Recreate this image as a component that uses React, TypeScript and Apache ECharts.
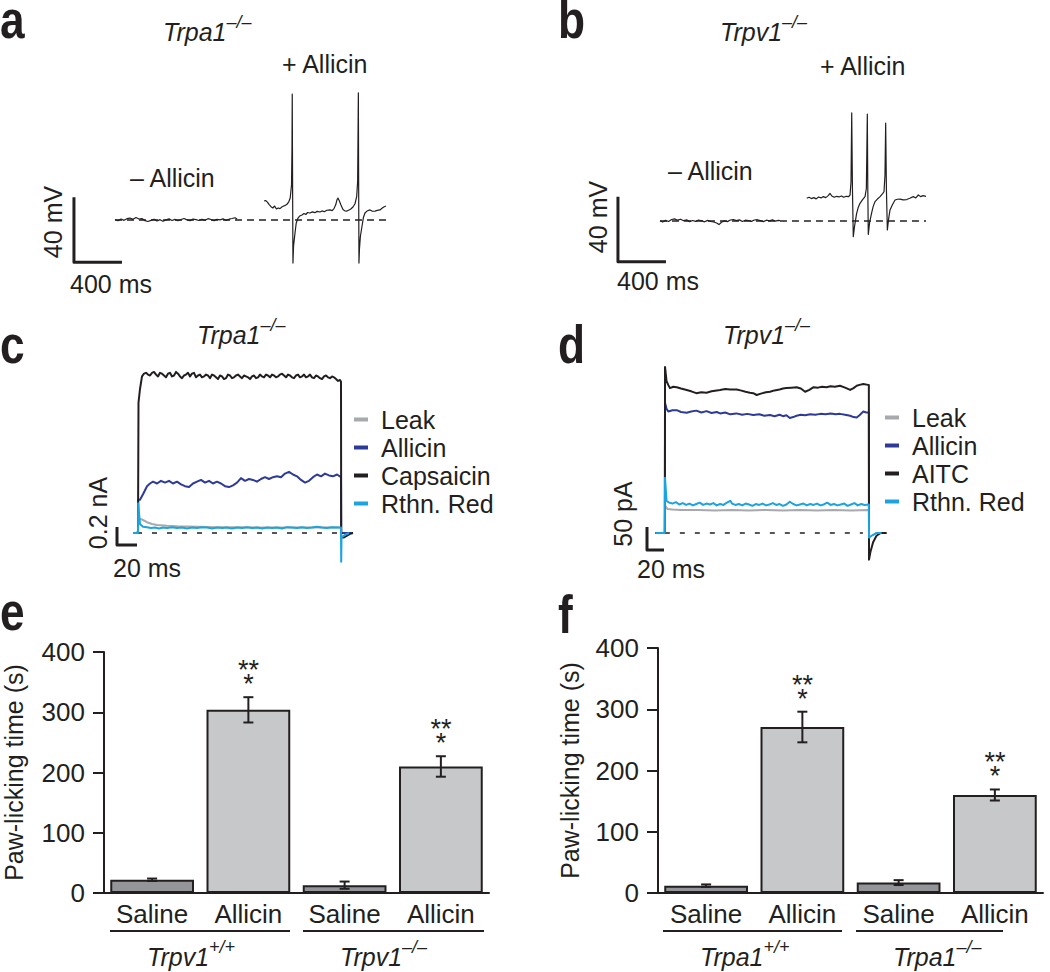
import React, { useEffect, useRef } from "react";
import * as echarts from "echarts";

const FONT = "'Liberation Sans', Arial, Helvetica, sans-serif";
const INK = "#231f20";
const C_LEAK = "#a7a9ac";
const C_ALLICIN = "#2e3a97";
const C_BLACK = "#231f20";
const C_RR = "#1ba4e0";
const C_SALINE_BAR = "#939598";
const C_ALLICIN_BAR = "#c7c8ca";

// ---------- panel a (Trpa1-/-), time ms, potential mV relative to rest ----------
const aMinusAllicin: number[][] = [[375,0.3],[400,-0.5],[425,0.6],[450,-0.2],[475,0.8],[500,1.2],[525,0.4],[550,1.5],[575,0.6],[600,0.9],[625,-0.4],[650,-0.9],[675,-0.2],[700,0.5],[725,-0.6],[750,0.2],[775,-0.8],[800,0.1],[825,0.7],[850,-0.3],[875,0.4],[900,-0.5],[925,0.3],[950,0.9],[975,0.1],[1000,-0.4],[1025,0.6],[1050,0.2],[1075,-0.3],[1100,0.5],[1125,-0.2],[1150,0.8],[1175,0.3],[1200,-0.5],[1225,0.4],[1250,0.1],[1275,0.7],[1300,-0.2],[1325,0.5],[1350,0.9],[1375,1.4],[1392,0.6]];
const aPlusAllicin: number[][] = [[1617,11.7],[1630,12.0],[1645,11.0],[1660,9.5],[1675,8.2],[1690,7.4],[1705,8.6],[1720,6.8],[1735,7.4],[1750,7.0],[1765,8.0],[1780,8.6],[1795,9.0],[1810,9.8],[1825,11.5],[1835,13.5],[1846,21.5],[1850,45],[1852,77.5],[1855,20],[1858,-26.5],[1863,-16],[1875,-8],[1885,-2],[1900,1.2],[1915,2.5],[1933,3.1],[1950,4.0],[1965,3.4],[1980,4.6],[2000,4.3],[2020,5.0],[2040,4.5],[2060,5.3],[2083,4.9],[2100,5.6],[2120,5.1],[2140,6.0],[2167,6.2],[2185,5.8],[2200,7.0],[2215,9.5],[2225,12.5],[2233,13.5],[2243,12.0],[2258,9.2],[2275,6.5],[2290,5.6],[2308,5.5],[2325,6.2],[2340,6.8],[2358,8.0],[2375,10.0],[2389,14.4],[2397,23.6],[2403,78.2],[2405,30],[2408,-26.5],[2412,-18],[2420,-10],[2433,-4],[2445,1.5],[2458,4.3],[2475,5.5],[2500,6.2],[2520,5.4],[2542,5.5],[2560,5.9],[2583,6.2],[2600,7.2],[2615,8.0],[2633,8.6]];
const aBaseline: number[][] = [[375,0],[2642,0]];

// ---------- panel b (Trpv1-/-) ----------
const bMinusAllicin: number[][] = [[383,0.2],[405,-0.6],[430,0.4],[455,-0.3],[480,0.9],[505,1.3],[530,0.5],[555,1.1],[580,0.2],[605,0.7],[630,-0.4],[655,0.3],[680,-0.2],[705,0.6],[730,0.1],[755,-0.5],[780,0.4],[805,-0.3],[830,-0.6],[855,-1.2],[875,-2.2],[895,-0.8],[920,0.1],[945,-0.4],[970,0.6],[995,0.9],[1020,0.2],[1045,0.7],[1070,-0.3],[1095,0.5],[1120,0.3],[1145,-0.2],[1170,0.6],[1195,0.8],[1220,0.2],[1245,-0.4],[1270,0.5],[1295,0.1],[1320,0.7],[1345,-0.1],[1370,0.4],[1383,0.2]];
const bPlusAllicin: number[][] = [[1606,14.0],[1625,14.6],[1645,13.8],[1665,14.4],[1685,13.6],[1705,14.8],[1725,14.2],[1745,15.0],[1765,14.4],[1785,15.6],[1800,17.0],[1815,15.4],[1835,14.6],[1855,15.2],[1875,14.8],[1895,15.4],[1915,14.6],[1935,15.2],[1955,15.0],[1967,16.0],[1975,24],[1981,66.5],[1987,20],[1994,-9.6],[2005,-3],[2022,4.7],[2036,8.5],[2050,10.9],[2070,13.0],[2092,15.0],[2103,20],[2111,65.8],[2115,20],[2119,-8.2],[2130,-1],[2147,5.0],[2160,9],[2175,11.9],[2195,13.5],[2217,15],[2240,17],[2250,18],[2258,28],[2264,60.3],[2270,20],[2278,-5.5],[2288,1],[2300,6.8],[2320,10],[2342,12.9],[2362,13.4],[2383,13.5],[2410,13.0],[2439,13.2],[2465,14.0],[2494,15.0],[2515,14.2],[2536,16.0],[2555,15.0],[2575,15.6],[2600,15.2]];
const bBaseline: number[][] = [[383,0],[2600,0]];

// scale bars a/b: 40 mV, 400 ms
const abScaleMv = 40;
const abScaleMs = 400;

// ---------- panel c (Trpa1-/-), time ms, current nA ----------
const cLeak: number[][] = [[16,0],[21,0],[21.2,0.16],[25,0.15],[30,0.12],[35,0.10],[40,0.09],[50,0.08],[60,0.075],[80,0.07],[100,0.065],[120,0.065],[140,0.06],[160,0.06],[180,0.06],[200,0.06],[224,0.06],[224.2,0],[236,0]];
const cAllicin: number[][] = [[16,0],[21,0],[21.2,0.37],[23,0.37],[26,0.43],[30,0.52],[33,0.55],[36,0.57],[40,0.55],[44,0.58],[48,0.56],[52,0.58],[56,0.55],[60,0.57],[64,0.54],[68,0.52],[72,0.51],[76,0.55],[80,0.57],[84,0.59],[88,0.56],[92,0.58],[96,0.55],[100,0.57],[104,0.55],[108,0.52],[112,0.51],[116,0.53],[120,0.56],[124,0.61],[128,0.58],[132,0.60],[136,0.59],[140,0.57],[144,0.60],[148,0.62],[152,0.60],[156,0.62],[160,0.63],[164,0.62],[168,0.66],[172,0.68],[176,0.65],[180,0.63],[184,0.59],[188,0.56],[192,0.58],[196,0.62],[200,0.65],[204,0.63],[208,0.66],[212,0.64],[216,0.63],[220,0.65],[224,0.62],[224.2,0],[236,0]];
const cCapsaicin: number[][] = [[16,0],[20,0],[21,0.02],[21.5,1.45],[23,1.6],[25,1.74],[27,1.77],[29,1.78],[31,1.76],[33,1.75],[35,1.78],[37,1.79],[39,1.76],[41,1.74],[43,1.78],[45,1.77],[47,1.75],[49,1.73],[51,1.77],[53,1.78],[55,1.74],[57,1.75],[59,1.79],[61,1.77],[63,1.74],[65,1.72],[67,1.75],[69,1.76],[71,1.78],[73,1.74],[75,1.77],[77,1.78],[79,1.73],[81,1.75],[83,1.76],[85,1.73],[87,1.74],[89,1.76],[91,1.75],[93,1.72],[95,1.76],[97,1.75],[99,1.73],[101,1.71],[103,1.75],[105,1.74],[107,1.71],[109,1.72],[111,1.76],[113,1.75],[115,1.72],[117,1.73],[119,1.75],[121,1.76],[123,1.74],[125,1.72],[127,1.75],[129,1.74],[131,1.73],[133,1.71],[135,1.74],[137,1.75],[139,1.72],[141,1.73],[143,1.76],[145,1.74],[147,1.73],[149,1.76],[151,1.75],[153,1.73],[155,1.76],[157,1.75],[159,1.73],[161,1.74],[163,1.76],[165,1.77],[167,1.75],[169,1.73],[171,1.76],[173,1.75],[175,1.73],[177,1.72],[179,1.75],[181,1.76],[183,1.73],[185,1.74],[187,1.76],[189,1.73],[191,1.74],[193,1.76],[195,1.73],[197,1.72],[199,1.75],[201,1.74],[203,1.72],[205,1.71],[207,1.74],[209,1.75],[211,1.73],[213,1.72],[215,1.74],[217,1.73],[219,1.71],[221,1.69],[223,1.70],[224,1.68],[224.2,-0.05],[227,-0.05],[230,-0.03],[233,-0.01],[236,0]];
const cRuthRed: number[][] = [[16,0],[21,0],[21.2,0.33],[23,0.10],[26,0.07],[30,0.065],[34,0.055],[38,0.06],[42,0.05],[46,0.06],[50,0.055],[55,0.065],[60,0.055],[65,0.06],[70,0.05],[75,0.06],[80,0.055],[85,0.065],[90,0.06],[95,0.05],[100,0.06],[105,0.055],[110,0.06],[115,0.05],[120,0.06],[125,0.055],[130,0.065],[135,0.055],[140,0.06],[145,0.05],[150,0.06],[155,0.055],[160,0.06],[165,0.05],[170,0.065],[175,0.06],[180,0.055],[185,0.065],[190,0.055],[195,0.06],[200,0.07],[205,0.06],[210,0.055],[215,0.065],[220,0.06],[224,0.06],[224.2,-0.32],[224.5,-0.05],[228,-0.02],[232,0]];
const cBaseline: number[][] = [[20,0],[230,0]];
const cScaleNa = 0.2;
const cScaleMs = 20;

// ---------- panel d (Trpv1-/-), time ms, current pA ----------
const dLeak: number[][] = [[10,0],[21,0],[21.2,60],[24,52],[30,51],[40,50],[60,50],[80,49],[100,50],[120,49],[140,50],[160,49],[180,50],[200,49],[220,50],[240,49],[261,50],[261.2,0]];
const dAllicin: number[][] = [[10,0],[21,0],[21.2,283],[23,270],[25,264],[30,267],[35,267],[40,263],[46.7,261.5],[52,264],[58,266],[64,262],[70,265],[76,261],[82,263],[86,260],[92,262],[98,258],[105,260],[112,257],[118,259],[125,256.5],[132,258],[138,255],[144.7,256.5],[150,254],[156,257],[160,254],[164,256],[168,250],[172,252],[176,255],[181,257],[186,256],[192,258],[198,257],[204,259],[210,258],[216,260],[222,258],[227,259],[233,257],[239,255],[243,252],[246.7,251],[250,256],[254.5,264],[258,262],[261,262],[261.2,0]];
const dAITC: number[][] = [[10,0],[21,0],[21.2,361],[23,330],[25,322],[27,315],[31,318],[35,317],[40,314],[46.7,311],[52,308],[58,304],[64,306],[70,305],[76,308],[82,310],[86,311],[92,313],[98,312],[105.5,312],[110,310],[116,307],[121,305],[125,304],[129,300],[134,303],[140,306],[144.7,307],[150,310],[156,312],[160,314],[164,315],[170,316],[176,317],[181,314],[186,307],[191,311],[196,317],[201,316],[206,318],[211,317],[216,319],[221,318],[227,320],[233,316],[239,311],[243,315],[246.7,320],[250,322],[254.5,324],[260,322],[261,322],[261.2,-58],[263,-40],[266,-20],[270,-6],[275,0],[282,0]];
const dRuthRed: number[][] = [[10,0],[21,0],[21.2,120],[23,70],[26,66],[30,64],[34,67],[38,62],[42,65],[46,61],[50,64],[54,60],[58,63],[62,66],[66,61],[70,64],[74,62],[78,65],[82,60],[86,63],[90,61],[94,66],[98,70],[100,64],[104,61],[108,63],[112,60],[116,64],[120,62],[124,59],[128,63],[132,61],[136,64],[140,60],[144,62],[148,65],[152,61],[156,63],[160,59],[164,62],[168,68],[172,63],[176,60],[180,62],[184,64],[188,60],[192,63],[196,61],[200,64],[204,60],[208,62],[212,66],[216,61],[220,63],[224,60],[228,62],[232,64],[236,59],[240,62],[244,65],[248,60],[252,63],[256,61],[261,62],[261.2,-10],[265,-5],[270,0],[276,0]];
const dBaseline: number[][] = [[21,0],[254,0]];
const dScalePa = 50;
const dScaleMs = 20;

// ---------- panels e, f: paw-licking time (s) ----------
const barCategories = ["Saline", "Allicin", "Saline", "Allicin"];
const eValues = [22, 304, 13, 210];
const eErrors = [2, 21, 6, 17];
const eSignificant = [0, 1, 0, 1];
const eGroups = ["Trpv1", "Trpv1"];
const eGroupSup = ["+/+", "–/–"];
const fValues = [12, 271, 17, 160];
const fErrors = [2, 25, 4, 9];
const fSignificant = [0, 1, 0, 1];
const fGroups = ["Trpa1", "Trpa1"];
const fGroupSup = ["+/+", "–/–"];
const yTicks = [0, 100, 200, 300, 400];

const legendC = ["Leak", "Allicin", "Capsaicin", "Rthn. Red"];
const legendD = ["Leak", "Allicin", "AITC", "Rthn. Red"];

function lineSeries(name: string, data: number[][], gi: number, color: string, width: number, dashed?: any) {
  return {
    type: "line",
    name,
    data,
    xAxisIndex: gi,
    yAxisIndex: gi,
    showSymbol: false,
    symbol: "none",
    silent: true,
    itemStyle: { color },
    lineStyle: { color, width, type: dashed || "solid", cap: "butt", join: "round" },
  };
}

function scaleBar(gi: number, x0: number, y0: number, dx: number, dy: number) {
  return lineSeries("_scale" + gi, [[x0, y0 + dy], [x0, y0], [x0 + dx, y0]], gi, INK, 3);
}

function starText(x: number, y: number, text: string) {
  return {
    type: "text",
    x,
    y,
    style: { text, fill: INK, fontSize: 27, lineHeight: 10, fontFamily: FONT, align: "center", verticalAlign: "middle" },
  };
}

function errSeries(gi: number, vals: number[], errs: number[], sig: number[]) {
  return {
    type: "custom",
    xAxisIndex: gi,
    yAxisIndex: gi,
    z: 5,
    silent: true,
    encode: { x: 0, y: 1 },
    data: vals.map((v, i) => [i, v, errs[i], sig[i]]),
    renderItem: (params: any, api: any) => {
      const i = api.value(0);
      const v = api.value(1);
      const e = api.value(2);
      const s = api.value(3);
      const top = api.coord([i, v + e]);
      const bot = api.coord([i, v - e]);
      const hw = 5;
      const st = { stroke: INK, lineWidth: 2 };
      const ch: any[] = [
        { type: "line", shape: { x1: top[0], y1: top[1], x2: bot[0], y2: bot[1] }, style: st },
        { type: "line", shape: { x1: top[0] - hw, y1: top[1], x2: top[0] + hw, y2: top[1] }, style: st },
        { type: "line", shape: { x1: bot[0] - hw, y1: bot[1], x2: bot[0] + hw, y2: bot[1] }, style: st },
      ];
      if (s) {
        ch.push(starText(top[0], top[1] - 27, "**"));
        ch.push(starText(top[0], top[1] - 13, "*"));
      }
      return { type: "group", children: ch };
    },
  };
}

function barSeries(gi: number, vals: number[]) {
  return {
    type: "bar",
    xAxisIndex: gi,
    yAxisIndex: gi,
    barWidth: "87%",
    silent: true,
    data: vals.map((v, i) => ({
      value: v,
      itemStyle: { color: i % 2 === 0 ? C_SALINE_BAR : C_ALLICIN_BAR, borderColor: INK, borderWidth: 2 },
    })),
  };
}

function T(x: number, y: number, text: string, o: any = {}) {
  const fs = o.fs || 25;
  return {
    type: "text",
    x,
    y,
    rotation: o.rot || 0,
    scaleX: o.sx || 1,
    silent: true,
    style: {
      text,
      fill: INK,
      fontSize: fs,
      lineHeight: o.lh || fs,
      fontFamily: FONT,
      fontStyle: o.it ? "italic" : "normal",
      fontWeight: o.b ? "bold" : "normal",
      align: o.align || "left",
      verticalAlign: "middle",
    },
  };
}

// italic gene name with a raised genotype superscript, y = baseline - 8.5
function G(x: number, y: number, main: string, sup: string) {
  return {
    type: "text",
    x,
    y,
    silent: true,
    style: {
      text: `{m|${main}}{s|${sup}}`,
      fill: INK,
      fontFamily: FONT,
      align: "left",
      verticalAlign: "middle",
      rich: {
        m: { fontSize: 25, lineHeight: 37, fontStyle: "italic", fontFamily: FONT, fill: INK, color: INK },
        s: { fontSize: 18, lineHeight: 18, fontStyle: "italic", fontFamily: FONT, fill: INK, color: INK, verticalAlign: "top" },
      },
    },
  };
}

function L(x1: number, y1: number, x2: number, y2: number) {
  return { type: "line", silent: true, shape: { x1, y1, x2, y2 }, style: { stroke: INK, lineWidth: 2 } };
}

function hiddenValueAxis(gi: number, min: number, max: number) {
  return { type: "value", gridIndex: gi, min, max, show: false, splitLine: { show: false } };
}

function barXAxis(gi: number) {
  return {
    type: "category",
    gridIndex: gi,
    data: barCategories,
    axisLine: { show: true, lineStyle: { color: INK, width: 2 } },
    axisTick: { show: false },
    axisLabel: { color: INK, fontSize: 26, fontFamily: FONT, margin: 8, interval: 0 },
    splitLine: { show: false },
  };
}

function barYAxis(gi: number, gap: number) {
  return {
    type: "value",
    gridIndex: gi,
    min: yTicks[0],
    max: yTicks[yTicks.length - 1],
    interval: 100,
    name: "Paw-licking time (s)",
    nameLocation: "middle",
    nameGap: gap,
    nameRotate: 90,
    nameTextStyle: { color: INK, fontSize: 25, fontFamily: FONT },
    axisLine: { show: true, lineStyle: { color: INK, width: 2 } },
    axisTick: { show: true, length: 11, lineStyle: { color: INK, width: 2 } },
    axisLabel: { color: INK, fontSize: 26, fontFamily: FONT, margin: 19 },
    splitLine: { show: false },
  };
}

function legendFor(data: string[], left: number, top: number) {
  return {
    data,
    orient: "vertical",
    left,
    top,
    padding: 0,
    itemGap: 3,
    itemWidth: 14,
    itemHeight: 4,
    icon: "rect",
    selectedMode: false,
    textStyle: { color: INK, fontSize: 25, fontFamily: FONT, padding: [0, 0, 0, 8] },
  };
}

function buildOption() {
  const g = (left: number, top: number, width: number, height: number) => ({
    left,
    top,
    width,
    height,
    containLabel: false,
    outerBoundsMode: "none",
  });
  const grids = [
    g(70, 90, 330, 195),
    g(614, 91, 330, 195),
    g(117, 362, 250, 207),
    g(647, 358.2, 246.5, 207),
    g(104, 652, 385, 241),
    g(658, 648, 385, 245),
  ];
  const xAxis = [
    hiddenValueAxis(0, 0, 2750),
    hiddenValueAxis(1, 0, 2750),
    hiddenValueAxis(2, 0, 250),
    hiddenValueAxis(3, 0, 290),
    barXAxis(4),
    barXAxis(5),
  ];
  const yAxis = [
    hiddenValueAxis(0, -40, 80),
    hiddenValueAxis(1, -40, 80),
    hiddenValueAxis(2, -0.4, 1.9),
    hiddenValueAxis(3, -70, 380),
    barYAxis(4, 78),
    barYAxis(5, 76),
  ];
  const series: any[] = [
    scaleBar(0, 33, -26, abScaleMs, abScaleMv),
    lineSeries("_base0", aBaseline, 0, INK, 1.5, [7, 5]),
    lineSeries("_a-", aMinusAllicin, 0, INK, 1.2),
    lineSeries("_a+", aPlusAllicin, 0, INK, 1.2),

    scaleBar(1, 33, -25, abScaleMs, abScaleMv),
    lineSeries("_base1", bBaseline, 1, INK, 1.5, [7, 5]),
    lineSeries("_b-", bMinusAllicin, 1, INK, 1.2),
    lineSeries("_b+", bPlusAllicin, 1, INK, 1.2),

    scaleBar(2, 0, -0.133, cScaleMs, cScaleNa),
    lineSeries("_base2", cBaseline, 2, INK, 1.5, [5, 10]),
    lineSeries("Leak", cLeak, 2, C_LEAK, 2),
    lineSeries("Allicin", cAllicin, 2, C_ALLICIN, 2),
    lineSeries("Capsaicin", cCapsaicin, 2, C_BLACK, 2),
    lineSeries("Rthn. Red", cRuthRed, 2, C_RR, 2),

    scaleBar(3, 0, -37, dScaleMs, dScalePa),
    lineSeries("_base3", dBaseline, 3, INK, 1.5, [5, 10]),
    lineSeries("Leak", dLeak, 3, C_LEAK, 2),
    lineSeries("Allicin", dAllicin, 3, C_ALLICIN, 2),
    lineSeries("AITC", dAITC, 3, C_BLACK, 2),
    lineSeries("Rthn. Red", dRuthRed, 3, C_RR, 2),

    barSeries(4, eValues),
    errSeries(4, eValues, eErrors, eSignificant),
    barSeries(5, fValues),
    errSeries(5, fValues, fErrors, fSignificant),
  ];

  const PI2 = Math.PI / 2;
  const letter = { fs: 54, lh: 34, b: true, sx: 0.82 };
  const graphic: any[] = [
    // panel letters
    T(0, 19, "a", letter),
    T(558, 19, "b", letter),
    T(0, 344, "c", letter),
    T(558, 344, "d", letter),
    T(0, 611, "e", letter),
    T(558, 614, "f", letter),
    // titles
    G(163, 31.5, "Trpa1", "–/–"),
    G(720, 31.5, "Trpv1", "–/–"),
    G(197, 334.5, "Trpa1", "–/–"),
    G(723, 334.5, "Trpv1", "–/–"),
    // condition labels
    T(282, 64, "+ Allicin"),
    T(130, 178, "– Allicin"),
    T(820, 66, "+ Allicin"),
    T(668, 171, "– Allicin"),
    // scale bar labels
    T(70, 284, "400 ms"),
    T(617, 281, "400 ms"),
    T(53, 222, "40 mV", { rot: PI2, align: "center" }),
    T(598, 217, "40 mV", { rot: PI2, align: "center" }),
    T(98, 513, "0.2 nA", { rot: PI2, align: "center" }),
    T(623, 514, "50 pA", { rot: PI2, align: "center" }),
    T(113, 568, "20 ms"),
    T(637, 569, "20 ms"),
    // genotype group labels
    L(110, 931, 290, 931),
    L(303, 931, 484, 931),
    L(663, 931, 842, 931),
    L(856, 931, 1003, 931),
    G(147, 956.5, eGroups[0], eGroupSup[0]),
    G(340, 956.5, eGroups[1], eGroupSup[1]),
    G(700, 956.5, fGroups[0], fGroupSup[0]),
    G(893, 956.5, fGroups[1], fGroupSup[1]),
  ];

  return {
    animation: false,
    backgroundColor: "#ffffff",
    textStyle: { fontFamily: FONT, color: INK },
    grid: grids,
    xAxis,
    yAxis,
    legend: [legendFor(legendC, 354, 407), legendFor(legendD, 885, 405)],
    series,
    graphic,
  };
}

export default function App() {
  const ref = useRef<HTMLDivElement>(null);
  useEffect(() => {
    document.body.style.margin = "0";
    const chart = echarts.init(ref.current as HTMLDivElement, null, { renderer: "svg" });
    chart.setOption(buildOption() as any);
    return () => chart.dispose();
  }, []);
  return <div ref={ref} style={{ width: 1050, height: 972, background: "#ffffff" }} />;
}
